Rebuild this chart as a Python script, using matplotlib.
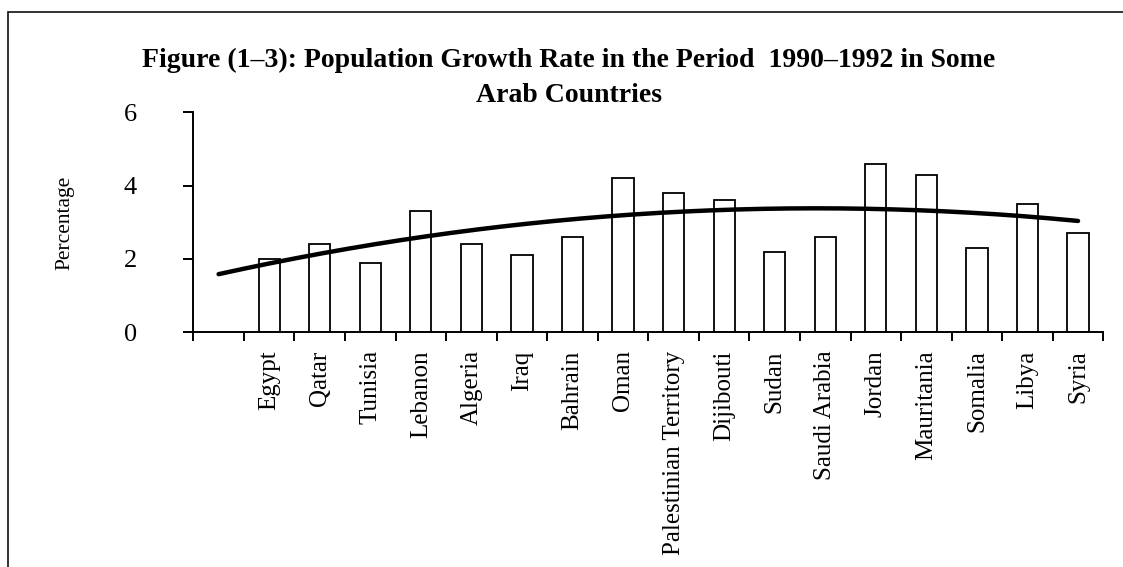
import numpy as np
import matplotlib
matplotlib.use("Agg")
import matplotlib.pyplot as plt
from matplotlib.patches import Rectangle

plt.rcParams['font.family'] = ['Liberation Serif', 'DejaVu Serif']

countries = ["Egypt", "Qatar", "Tunisia", "Lebanon", "Algeria", "Iraq", "Bahrain",
             "Oman", "Palestinian Territory", "Dijibouti", "Sudan", "Saudi Arabia",
             "Jordan", "Mauritania", "Somalia", "Libya", "Syria"]
growth = [2.0, 2.4, 1.9, 3.3, 2.4, 2.1, 2.6, 4.2, 3.8, 3.6, 2.2, 2.6, 4.6, 4.3, 2.3, 3.5, 2.7]
y_ticks = [0, 2, 4, 6]
title = "Figure (1\u20133): Population Growth Rate in the Period  1990\u20131992 in Some"
title2 = "Arab Countries"

W, H = 1123, 567
fig = plt.figure(figsize=(W / 100, H / 100), dpi=100)
ax = fig.add_axes([193.3 / W, 1 - 332.3 / H, 910 / W, 220 / H])

# first category slot is empty, countries start at slot 2
x = np.arange(2, len(countries) + 2)
ax.bar(x, growth, width=0.42, facecolor="white", edgecolor="black", linewidth=1.3, zorder=2)

# 2nd order polynomial trend line (Excel style), drawn back to slot 1
coef = np.polyfit(x, growth, 2)
xs = np.linspace(1, x[-1], 200)
ax.plot(xs, np.polyval(coef, xs), color="black", linewidth=3.2,
        solid_capstyle="round", zorder=3)

ax.set_xlim(0.5, len(countries) + 1.5)
ax.set_ylim(0, 6)
ax.set_yticks(y_ticks)
ax.set_yticklabels([str(v) for v in y_ticks], fontsize=19)
ax.tick_params(axis="y", length=7.5, width=1.4, pad=33, direction="out")

ax.set_xticks(np.arange(0.5, len(countries) + 2, 1))
ax.set_xticklabels([])
ax.tick_params(axis="x", which="major", length=6.5, width=1.4, direction="out")
ax.set_xticks(x, minor=True)
ax.set_xticklabels(countries, minor=True, rotation=90, fontsize=18, va="top")
ax.tick_params(axis="x", which="minor", length=0, pad=13)

for s in ["top", "right"]:
    ax.spines[s].set_visible(False)
for s in ["left", "bottom"]:
    ax.spines[s].set_linewidth(1.4)

fig.text(65 / W, 1 - 223 / H, "Percentage", rotation=90, ha="center", va="center", fontsize=15.5)

fig.text(569 / W, 1 - 67 / H, title, ha="center", va="baseline", fontsize=20, fontweight="bold")
fig.text(569 / W, 1 - 102 / H, title2, ha="center", va="baseline", fontsize=20, fontweight="bold")

# chart frame (bottom and right edge fall outside the picture)
fig.patches.append(Rectangle((8 / W, -0.5), 2, 1.5 - 12 / H, transform=fig.transFigure,
                             fill=False, edgecolor="#222222", linewidth=1.3))

plt.savefig("out.png", dpi=100)
